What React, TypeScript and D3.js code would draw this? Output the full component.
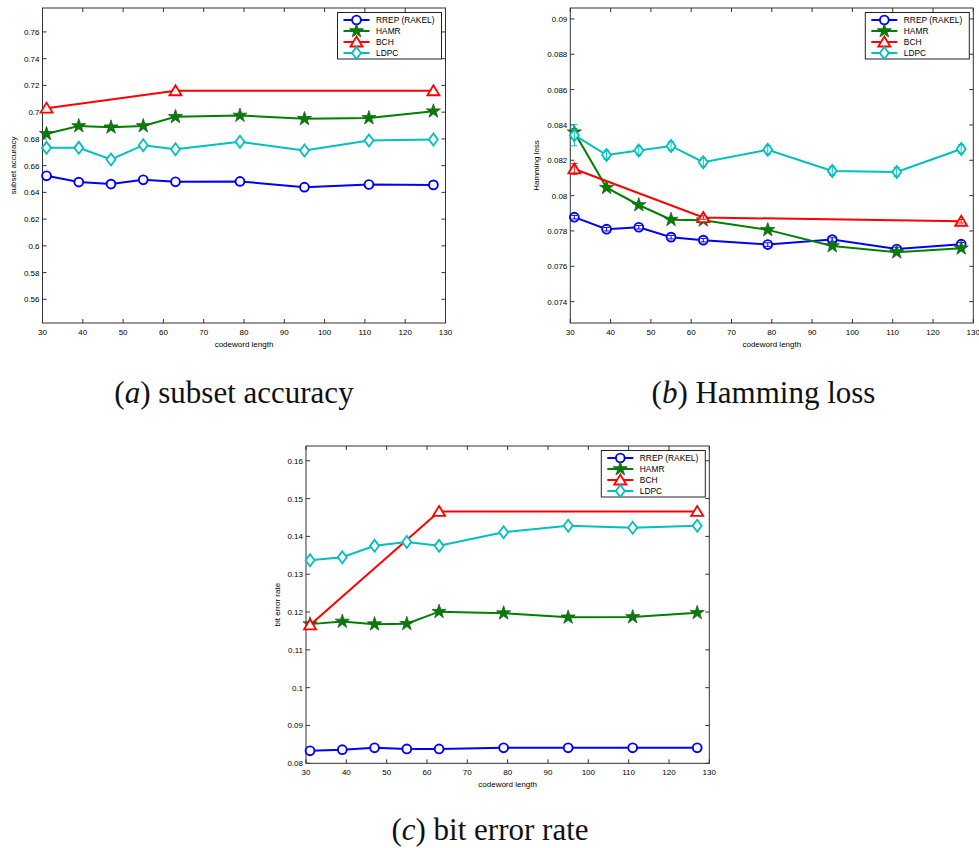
import React, { useRef, useEffect } from 'react';
import * as d3 from 'd3';

// codeword lengths on the x axis
const codewordLengths = [31, 39, 47, 55, 63, 79, 95, 111, 127];
const bchLengths = [31, 63, 127];
const methodNames = ['RREP (RAKEL)', 'HAMR', 'BCH', 'LDPC'];
const xTicks = [30, 40, 50, 60, 70, 80, 90, 100, 110, 120, 130];

// (a) subset accuracy
const accRrep = [0.6524, 0.6477, 0.6462, 0.6494, 0.6479, 0.6482, 0.6439, 0.6459, 0.6456];
const accHamr = [0.6838, 0.6897, 0.6887, 0.6897, 0.6965, 0.6975, 0.695, 0.6957, 0.7007];
const accBch = [0.703, 0.716, 0.716];
const accLdpc = [0.6733, 0.6733, 0.6646, 0.6753, 0.6723, 0.6778, 0.6713, 0.6788, 0.6795];
const accTicks = [0.56, 0.58, 0.6, 0.62, 0.64, 0.66, 0.68, 0.7, 0.72, 0.74, 0.76];

// (b) Hamming loss
const hlRrep = [0.07878, 0.0781, 0.07821, 0.07765, 0.07748, 0.07723, 0.07751, 0.07698, 0.07725];
const hlHamr = [0.08359, 0.08045, 0.07947, 0.07864, 0.07861, 0.07806, 0.07715, 0.0768, 0.07702];
const hlBch = [0.08151, 0.07876, 0.07855];
const hlLdpc = [0.08342, 0.0823, 0.08255, 0.08281, 0.08189, 0.0826, 0.0814, 0.08134, 0.08264];
const hlRrepErr = [0.0001, 0.0001, 0.0001, 0.0001, 0.0001, 0.0001, 0.0001, 0.0001, 0.0001];
const hlHamrErr = [0.0002, 0.0001, 0.0001, 0.0001, 0.0001, 0.0001, 0.0001, 0.0001, 0.0001];
const hlBchErr = [0.0003, 0.0001, 0.0001];
const hlLdpcErr = [0.0006, 0.00025, 0.00025, 0.00025, 0.00025, 0.00025, 0.00025, 0.00025, 0.00025];
const hlTicks = [0.074, 0.076, 0.078, 0.08, 0.082, 0.084, 0.086, 0.088, 0.09];

// (c) bit error rate
const berRrep = [0.0833, 0.0836, 0.0841, 0.0838, 0.0838, 0.0841, 0.0841, 0.0841, 0.0841];
const berHamr = [0.1168, 0.1175, 0.1168, 0.1169, 0.1201, 0.1197, 0.1186, 0.1187, 0.1198];
const berBch = [0.1166, 0.1466, 0.1466];
const berLdpc = [0.1337, 0.1345, 0.1375, 0.1385, 0.1375, 0.1411, 0.1428, 0.1423, 0.1428];
const berTicks = [0.08, 0.09, 0.1, 0.11, 0.12, 0.13, 0.14, 0.15, 0.16];

const colors = ['#0000ff', '#008000', '#ff0000', '#00bfbf'];
const markers = ['circle', 'star', 'triangle', 'diamond'];
const sans = '"Liberation Sans", Arial, Helvetica, sans-serif';

const drawMarker = (g, kind, x, y, color) => {
  if (kind === 'circle') {
    g.append('circle').attr('cx', x).attr('cy', y).attr('r', 4.4)
      .attr('fill', 'white').attr('stroke', color).attr('stroke-width', 1.9);
  } else if (kind === 'star') {
    g.append('path').attr('d', d3.symbol(d3.symbolStar, 62)())
      .attr('transform', `translate(${x},${y})`)
      .attr('fill', color).attr('stroke', '#2a5a2a').attr('stroke-width', 0.8);
  } else if (kind === 'triangle') {
    g.append('path').attr('d', 'M0,-5.5L6,4.5L-6,4.5Z')
      .attr('transform', `translate(${x},${y})`)
      .attr('fill', 'white').attr('stroke', color).attr('stroke-width', 1.8);
  } else {
    g.append('path').attr('d', 'M0,-6L4.5,0L0,6L-4.5,0Z')
      .attr('transform', `translate(${x},${y})`)
      .attr('fill', 'white').attr('stroke', color).attr('stroke-width', 1.8);
  }
};

const drawPanel = (svg, p) => {
  const x = d3.scaleLinear().domain([30, 130]).range([p.left, p.right]);
  const y = d3.scaleLinear().domain(p.yDomain).range([p.bottom, p.top]);
  const g = svg.append('g');

  g.append('rect')
    .attr('x', p.left).attr('y', p.top)
    .attr('width', p.right - p.left).attr('height', p.bottom - p.top)
    .attr('fill', 'white').attr('stroke', '#333').attr('stroke-width', 1);

  // inward ticks on all four sides, matlab style
  const tl = 4;
  xTicks.forEach(t => {
    g.append('line').attr('x1', x(t)).attr('x2', x(t)).attr('y1', p.bottom).attr('y2', p.bottom - tl).attr('stroke', '#333');
    g.append('line').attr('x1', x(t)).attr('x2', x(t)).attr('y1', p.top).attr('y2', p.top + tl).attr('stroke', '#333');
    g.append('text').attr('x', x(t)).attr('y', p.bottom + 12)
      .attr('text-anchor', 'middle').attr('font-size', 8).attr('font-family', sans).text(t);
  });
  p.yTicks.forEach(t => {
    g.append('line').attr('x1', p.left).attr('x2', p.left + tl).attr('y1', y(t)).attr('y2', y(t)).attr('stroke', '#333');
    g.append('line').attr('x1', p.right).attr('x2', p.right - tl).attr('y1', y(t)).attr('y2', y(t)).attr('stroke', '#333');
    g.append('text').attr('x', p.left - 3).attr('y', y(t) + 3)
      .attr('text-anchor', 'end').attr('font-size', 8).attr('font-family', sans).text(String(t));
  });

  g.append('text')
    .attr('x', (p.left + p.right) / 2).attr('y', p.bottom + 24)
    .attr('text-anchor', 'middle').attr('font-size', 8).attr('font-family', sans)
    .text('codeword length');

  g.append('text')
    .attr('transform', `translate(${p.yLabelX},${(p.top + p.bottom) / 2}) rotate(-90)`)
    .attr('text-anchor', 'middle').attr('font-size', 8).attr('font-family', sans)
    .text(p.yLabel);

  const line = d3.line().x(d => x(d[0])).y(d => y(d[1]));

  p.series.forEach((s, i) => {
    const pts = s.xs.map((v, j) => [v, s.ys[j]]);
    g.append('path').datum(pts).attr('d', line)
      .attr('fill', 'none').attr('stroke', colors[i]).attr('stroke-width', 2);
    pts.forEach(d => drawMarker(g, markers[i], x(d[0]), y(d[1]), colors[i]));
    if (s.err) {
      pts.forEach((d, j) => {
        const e = s.err[j];
        const cx = x(d[0]);
        g.append('line').attr('x1', cx).attr('x2', cx).attr('y1', y(d[1] - e)).attr('y2', y(d[1] + e))
          .attr('stroke', colors[i]).attr('stroke-width', 1);
        [d[1] - e, d[1] + e].forEach(v => {
          g.append('line').attr('x1', cx - 3).attr('x2', cx + 3).attr('y1', y(v)).attr('y2', y(v))
            .attr('stroke', colors[i]).attr('stroke-width', 1);
        });
      });
    }
  });

  // legend box in the top right corner
  const lw = 104, lh = 46.5;
  const lx = p.right - lw - 4, ly = p.top + 4.5;
  const leg = g.append('g').attr('transform', `translate(${lx},${ly})`);
  leg.append('rect').attr('width', lw).attr('height', lh)
    .attr('fill', 'white').attr('stroke', '#222').attr('stroke-width', 1);
  methodNames.forEach((name, i) => {
    const ry = 7.5 + i * 11;
    leg.append('line').attr('x1', 6).attr('x2', 32).attr('y1', ry).attr('y2', ry)
      .attr('stroke', colors[i]).attr('stroke-width', 2);
    drawMarker(leg, markers[i], 19, ry, colors[i]);
    leg.append('text').attr('x', 38.5).attr('y', ry + 3)
      .attr('font-size', 8.4).attr('font-family', sans).text(name);
  });
};

const App = () => {
  const ref = useRef(null);

  useEffect(() => {
    const svg = d3.select(ref.current);
    svg.selectAll('*').remove();

    drawPanel(svg, {
      left: 42.5, right: 445.5, top: 8, bottom: 323,
      yDomain: [0.5423, 0.7779], yTicks: accTicks,
      yLabel: 'subset accuracy', yLabelX: 16,
      series: [
        { xs: codewordLengths, ys: accRrep },
        { xs: codewordLengths, ys: accHamr },
        { xs: bchLengths, ys: accBch },
        { xs: codewordLengths, ys: accLdpc },
      ],
    });

    drawPanel(svg, {
      left: 570.3, right: 973.3, top: 8, bottom: 323,
      yDomain: [0.07279, 0.09062], yTicks: hlTicks,
      yLabel: 'Hamming loss', yLabelX: 539,
      series: [
        { xs: codewordLengths, ys: hlRrep, err: hlRrepErr },
        { xs: codewordLengths, ys: hlHamr, err: hlHamrErr },
        { xs: bchLengths, ys: hlBch, err: hlBchErr },
        { xs: codewordLengths, ys: hlLdpc, err: hlLdpcErr },
      ],
    });

    drawPanel(svg, {
      left: 306, right: 709.3, top: 446, bottom: 763.3,
      yDomain: [0.08, 0.1639], yTicks: berTicks,
      yLabel: 'bit error rate', yLabelX: 280,
      series: [
        { xs: codewordLengths, ys: berRrep },
        { xs: codewordLengths, ys: berHamr },
        { xs: bchLengths, ys: berBch },
        { xs: codewordLengths, ys: berLdpc },
      ],
    });

    const captions = [
      { label: 'a', text: ' subset accuracy', cx: 234, y: 403 },
      { label: 'b', text: ' Hamming loss', cx: 763.5, y: 403 },
      { label: 'c', text: ' bit error rate', cx: 490, y: 840 },
    ];
    captions.forEach(c => {
      const t = svg.append('text')
        .attr('x', c.cx).attr('y', c.y).attr('text-anchor', 'middle')
        .attr('font-size', 31).attr('font-family', '"Liberation Serif", "Times New Roman", serif')
        .attr('fill', '#111');
      t.append('tspan').text('(');
      t.append('tspan').attr('font-style', 'italic').text(c.label);
      t.append('tspan').text(')' + c.text);
    });
  }, []);

  return (
    <svg ref={ref} width={979} height={848}
      style={{ position: 'absolute', left: 0, top: 0, background: 'white' }} />
  );
};

export default App;
